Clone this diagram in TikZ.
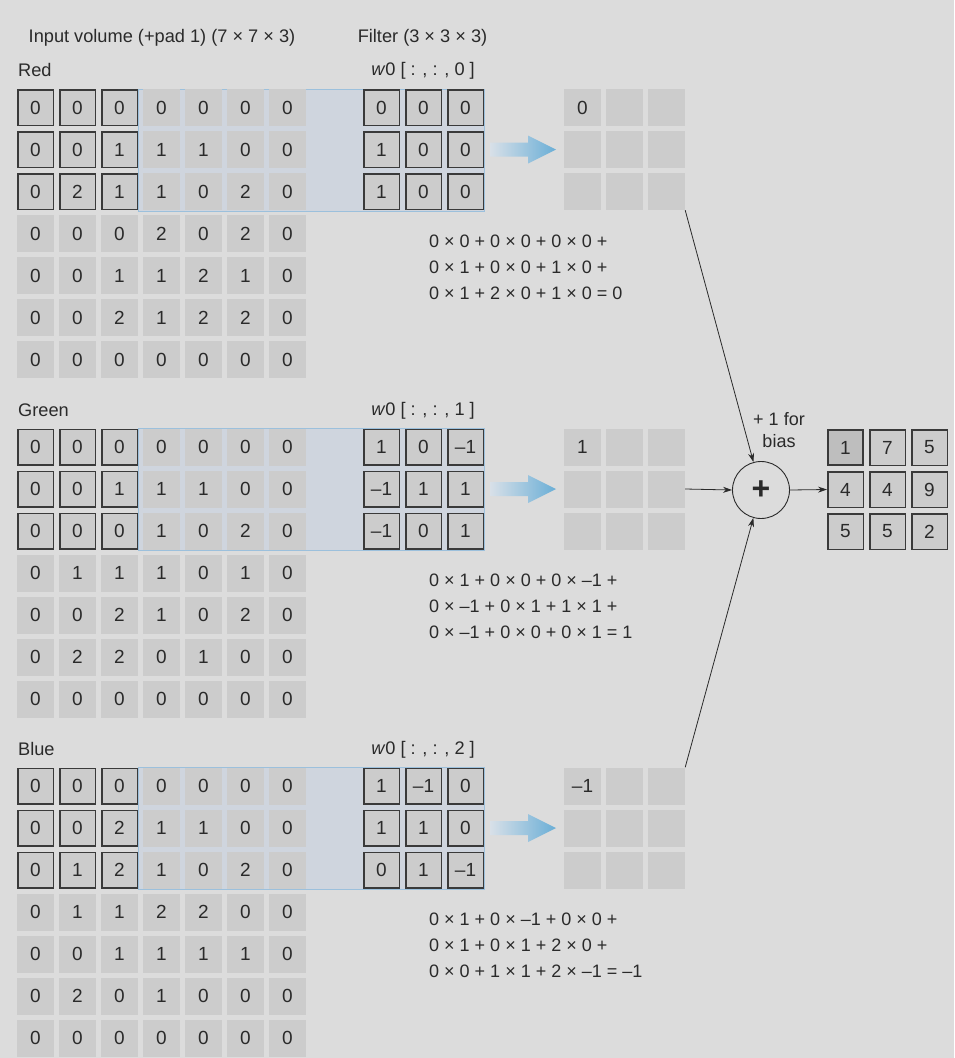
\documentclass[tikz,border=0pt]{standalone}
\usepackage{fontspec}
\setmainfont{Liberation Sans}
\usetikzlibrary{arrows.meta}
\definecolor{bg}{HTML}{DCDCDC}
\definecolor{cellfill}{HTML}{CCCCCC}
\definecolor{cellborder}{HTML}{3A3A3A}
\definecolor{bandfill}{HTML}{CFD5DE}
\definecolor{bandline}{HTML}{9CC0DC}
\definecolor{arrowblue}{HTML}{6AAED6}
\definecolor{arrowtail}{HTML}{D8E0E8}
\definecolor{txt}{HTML}{2A2A2A}
\definecolor{darkcell}{HTML}{BEBEBE}
\tikzset{
  cell/.style={minimum size=37pt, inner sep=0pt, fill=cellfill, text=txt, font=\fontsize{19}{21}\selectfont},
  framed/.style={cell, draw=cellborder, line width=1.5pt, minimum size=35.5pt},
  darkframed/.style={framed, fill=darkcell, line width=2.2pt, minimum size=34.8pt},
  lbl/.style={text=txt, font=\fontsize{18.2}{21}\selectfont, inner sep=0pt},
  eqn/.style={text=txt, font=\fontsize{18}{26}\selectfont, align=left, anchor=west, inner sep=0pt},
  conn/.style={draw=txt, line width=0.8pt, -{Stealth[length=9pt,width=6pt]}},
  band/.style={fill=bandfill, draw=bandline, line width=0.8pt},
  bigarrow/.style={left color=arrowtail, right color=arrowblue}
}
\newcommand\drawchannel[5]{%
  % #1 prefix, #2 top y, #3 input rows, #4 filter rows, #5 first output value
  \path[band] (138,#2) rectangle (484,#2+122);
  \foreach \row [count=\r from 0] in {#3} {
    \foreach \v [count=\c from 0] in \row {
      \ifnum\r<3 \ifnum\c<3 \def\sty{framed}\else\def\sty{cell}\fi\else\def\sty{cell}\fi
      \node[\sty] (#1i\r\c) at (35.5+42*\c, #2+18.5+42*\r) {\v};
    }
  }
  \foreach \row [count=\r from 0] in {#4} {
    \foreach \v [count=\c from 0] in \row {
      \node[framed] (#1f\r\c) at (381.5+42*\c, #2+18.5+42*\r) {\v};
    }
  }
  \foreach \r in {0,1,2} {
    \foreach \c in {0,1,2} {
      \node[cell] (#1o\r\c) at (582.5+42*\c, #2+18.5+42*\r) {};
    }
  }
  \node[cell, fill=none] at (#1o00) {#5};
  \shade[bigarrow] (490,#2+53.5) -- (528,#2+53.5) -- (528,#2+46.5) -- (556,#2+60.5)
    -- (528,#2+74.5) -- (528,#2+67.5) -- (490,#2+67.5) -- cycle;
}
\begin{document}
\begin{tikzpicture}[x=1pt,y=-1pt]
\fill[bg] (0,0) rectangle (954,1058);
\useasboundingbox (0,0) rectangle (954,1058);

\node[lbl] (title1) at (162,38) {Input volume (+pad 1) (7 × 7 × 3)};
\node[lbl] (title2) at (422.5,38) {Filter (3 × 3 × 3)};

% Red
\node[lbl, anchor=west] (redlbl) at (18,70) {Red};
\node[lbl] (rw) at (423,71) {\textit{w}0 [ : , : , 0 ]};
\drawchannel{r}{89}{{0,0,0,0,0,0,0},{0,0,1,1,1,0,0},{0,2,1,1,0,2,0},{0,0,0,2,0,2,0},{0,0,1,1,2,1,0},{0,0,2,1,2,2,0},{0,0,0,0,0,0,0}}{{0,0,0},{1,0,0},{1,0,0}}{0}
\node[eqn] (req) at (429,267) {0 × 0 + 0 × 0 + 0 × 0 +\\0 × 1 + 0 × 0 + 1 × 0 +\\0 × 1 + 2 × 0 + 1 × 0 = 0};

% Green
\node[lbl, anchor=west] (greenlbl) at (18,410) {Green};
\node[lbl] (gw) at (423,410.5) {\textit{w}0 [ : , : , 1 ]};
\drawchannel{g}{428.5}{{0,0,0,0,0,0,0},{0,0,1,1,1,0,0},{0,0,0,1,0,2,0},{0,1,1,1,0,1,0},{0,0,2,1,0,2,0},{0,2,2,0,1,0,0},{0,0,0,0,0,0,0}}{{1,0,–1},{–1,1,1},{–1,0,1}}{1}
\node[eqn] (geq) at (429,606.5) {0 × 1 + 0 × 0 + 0 × –1 +\\0 × –1 + 0 × 1 + 1 × 1 +\\0 × –1 + 0 × 0 + 0 × 1 = 1};

% Blue
\node[lbl, anchor=west] (bluelbl) at (18,749) {Blue};
\node[lbl] (bw) at (423,749.5) {\textit{w}0 [ : , : , 2 ]};
\drawchannel{b}{767.5}{{0,0,0,0,0,0,0},{0,0,2,1,1,0,0},{0,1,2,1,0,2,0},{0,1,1,2,2,0,0},{0,0,1,1,1,1,0},{0,2,0,1,0,0,0},{0,0,0,0,0,0,0}}{{1,–1,0},{1,1,0},{0,1,–1}}{–1}
\node[eqn] (beq) at (429,945.5) {0 × 1 + 0 × –1 + 0 × 0 +\\0 × 1 + 0 × 1 + 2 × 0 +\\0 × 0 + 1 × 1 + 2 × –1 = –1};

% Sum
\node[circle, draw=txt, line width=0.9pt, minimum size=57pt, inner sep=0pt, text=txt] (plus) at (761,490) {\fontsize{32}{32}\selectfont\bfseries +};
\node[lbl, align=center, font=\fontsize{18}{22.5}\selectfont] (bias) at (779,430) {+ 1 for\\bias};

% Final output
\foreach \row [count=\r from 0] in {{1,7,5},{4,4,9},{5,5,2}} {
  \foreach \v [count=\c from 0] in \row {
    \ifnum\r=0 \ifnum\c=0 \def\sty{darkframed}\else\def\sty{framed}\fi\else\def\sty{framed}\fi
    \node[\sty] (out\r\c) at (845.5+42*\c, 447.5+42*\r) {\v};
  }
}

\draw[conn] (ro22.south east) -- (plus);
\draw[conn] (go12.east) -- (plus.west);
\draw[conn] (bo02.north east) -- (plus);
\draw[conn] (plus.east) -- (out10.west);
\end{tikzpicture}
\end{document}
